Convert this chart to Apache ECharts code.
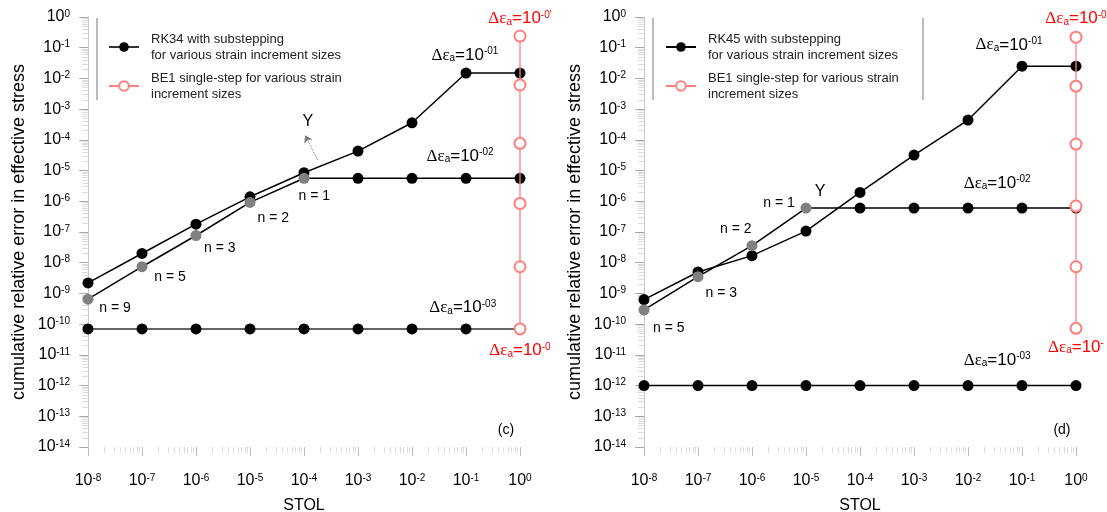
<!DOCTYPE html>
<html><head><meta charset="utf-8">
<script src="https://cdn.jsdelivr.net/npm/echarts@6/dist/echarts.min.js"></script>
<style>html,body{margin:0;padding:0;background:#fff}#c{width:1107px;height:512px}</style>
</head><body><div id="c"></div>
<script>
// ---- data ----
const stol = [1e-8, 1e-7, 1e-6, 1e-5, 1e-4, 1e-3, 1e-2, 1e-1, 1];
// panel (c): RK34
const rk34_de1 = [2.2e-9, 2.0e-8, 1.8e-7, 1.4e-6, 8.5e-6, 4.3e-5, 3.6e-4, 1.5e-2, 1.5e-2];
const rk34_de2 = [6.5e-10, 7.4e-9, 7.7e-8, 9.2e-7, 5.6e-6, 5.6e-6, 5.6e-6, 5.6e-6, 5.6e-6];
const rk34_de2_grayCount = 5;
const rk34_de3 = [7e-11, 7e-11, 7e-11, 7e-11, 7e-11, 7e-11, 7e-11, 7e-11, 7e-11];
const be1_c = [0.24, 6.1e-3, 7.7e-5, 8.5e-7, 7.4e-9, 7e-11];
// panel (d): RK45
const rk45_de1 = [6.3e-10, 5.0e-9, 1.7e-8, 1.07e-7, 1.95e-6, 3.2e-5, 4.4e-4, 2.5e-2, 2.5e-2];
const rk45_de2 = [2.9e-10, 3.5e-9, 3.6e-8, 6e-7, 6e-7, 6e-7, 6e-7, 6e-7, 6e-7];
const rk45_de2_grayCount = 4;
const rk45_de3 = [1e-12, 1e-12, 1e-12, 1e-12, 1e-12, 1e-12, 1e-12, 1e-12, 1e-12];
const be1_d = [0.22, 5.6e-3, 7.3e-5, 7e-7, 7.4e-9, 7.3e-11];
const be1_stol = 1;

// annotations: [log10 x, log10 y, kind, text]
const annC = [
  [-1.02, -1.24, 'de', '-01'], [-1.11, -4.53, 'de', '-02'], [-1.06, -9.45, 'de', '-03'],
  [0, -0.05, 'der', '-0\''], [0, -10.85, 'der', '-0'],
  [-3.81, -5.83, 'n', 'n = 1'], [-4.57, -6.55, 'n', 'n = 2'], [-5.56, -7.52, 'n', 'n = 3'],
  [-6.48, -8.47, 'n', 'n = 5'], [-7.5, -9.48, 'n', 'n = 9'],
  [-3.93, -3.42, 'y', 'Y'], [-0.26, -13.45, 'n', '(c)']
];
const annD = [
  [-1.24, -0.91, 'de', '-01'], [-1.46, -5.41, 'de', '-02'], [-1.46, -11.17, 'de', '-03'],
  [0, -0.05, 'der', '-0'], [0, -10.75, 'der', '-'],
  [-5.5, -6.06, 'n', 'n = 1'], [-6.3, -6.91, 'n', 'n = 2'], [-6.57, -8.99, 'n', 'n = 3'],
  [-7.54, -10.13, 'n', 'n = 5'],
  [-4.74, -5.70, 'y', 'Y'], [-0.26, -13.45, 'n', '(d)']
];

const FONT = "'Liberation Sans', Arial, sans-serif";
const GRAY = '#808080';
const RED_L = '#ff7f7f';
const RED = '#ff0000';

const legendText = {
  RK34: 'RK34 with substepping\nfor various strain increment sizes',
  RK45: 'RK45 with substepping\nfor various strain increment sizes',
  BE1: 'BE1 single-step for various strain\nincrement sizes'
};

function pts(xs, ys, gray) {
  return ys.map((y, i) => i < gray ? {value: [xs[i], y], itemStyle: {color: GRAY}} : [xs[i], y]);
}
const supRich = {
  b: {fontSize: 16, lineHeight: 16, padding: [4, 0, 4, 0], fontFamily: FONT, color: '#000'},
  s: {fontSize: 10, lineHeight: 10, verticalAlign: 'top', fontFamily: FONT, color: '#000'}
};
function expFmt(v) {
  const e = Math.round(Math.log10(v));
  return '{b|10}{s|' + e + '}';
}
function annRich(color) {
  return {
    g: {fontSize: 17, lineHeight: 17, padding: [4, 0, 4, 0], fontFamily: "'Liberation Serif', serif", color},
    m: {fontSize: 17, lineHeight: 17, padding: [4, 0, 4, 0], fontFamily: FONT, color},
    sub: {fontSize: 10, lineHeight: 10, verticalAlign: 'bottom', fontFamily: FONT, color},
    sup: {fontSize: 10, lineHeight: 10, verticalAlign: 'top', fontFamily: FONT, color},
    t: {fontSize: 14, lineHeight: 14, fontFamily: FONT, color: '#000'},
    y: {fontSize: 16, lineHeight: 16, fontFamily: FONT, color: '#000'}
  };
}
function markPts(ann) {
  return ann.map(a => {
    let txt, color = '#000';
    if (a[2] === 'de' || a[2] === 'der') {
      txt = '{g|Δε}{sub|a}{m|=10}{sup|' + a[3] + '}';
      if (a[2] === 'der') color = RED;
    } else if (a[2] === 'y') {
      txt = '{y|' + a[3] + '}';
    } else {
      txt = '{t|' + a[3] + '}';
    }
    return {
      coord: [Math.pow(10, a[0]), Math.pow(10, a[1])],
      symbol: 'rect', symbolSize: 1, itemStyle: {color: 'rgba(0,0,0,0)'},
      label: {show: true, position: 'inside', formatter: txt, rich: annRich(color)}
    };
  });
}

function xAxis(gi) {
  return {
    gridIndex: gi, type: 'log', logBase: 10, min: 1e-8, max: 1, interval: 1,
    name: 'STOL', nameLocation: 'middle', nameGap: 45,
    nameTextStyle: {fontSize: 16, fontFamily: FONT, color: '#000'},
    axisLine: {show: false},
    axisTick: {show: true, length: 9, lineStyle: {color: '#bbb'}},
    minorTick: {show: true, splitNumber: 9, length: 6, lineStyle: {color: '#ddd'}},
    splitLine: {show: false},
    axisLabel: {margin: 26, formatter: expFmt, rich: supRich}
  };
}
function yAxis(gi) {
  return {
    gridIndex: gi, type: 'log', logBase: 10, min: 1e-14, max: 1, interval: 1,
    name: 'cumulative relative error in effective stress', nameLocation: 'middle', nameGap: 60,
    nameTextStyle: {fontSize: 18, fontFamily: FONT, color: '#000'},
    axisLine: {show: true, lineStyle: {color: '#c8c8c8'}},
    axisTick: {show: true, length: 9, lineStyle: {color: '#aaa'}},
    minorTick: {show: true, splitNumber: 9, length: 6, lineStyle: {color: '#ddd'}},
    splitLine: {show: false},
    axisLabel: {margin: 18, formatter: expFmt, rich: supRich}
  };
}
function blackLine(name, gi, data, extra) {
  return Object.assign({
    name, type: 'line', xAxisIndex: gi, yAxisIndex: gi, data,
    symbol: 'circle', symbolSize: 11,
    itemStyle: {color: '#000'}, lineStyle: {color: '#000', width: 1.5},
    z: 3
  }, extra || {});
}
function redLine(gi, ys) {
  return {
    name: 'BE1', type: 'line', xAxisIndex: gi, yAxisIndex: gi,
    data: ys.map(y => [be1_stol, y]),
    symbol: 'emptyCircle', symbolSize: 11,
    itemStyle: {color: RED_L, borderColor: RED_L, borderWidth: 1.2},
    lineStyle: {color: RED_L, width: 1.3}, z: 5
  };
}

const option = {
  animation: false,
  backgroundColor: '#fff',
  textStyle: {fontFamily: FONT},
  grid: [
    {left: 88, right: 587, top: 17, bottom: 65, outerBoundsMode: 'none', containLabel: false},
    {left: 644, right: 31, top: 17, bottom: 65, outerBoundsMode: 'none', containLabel: false}
  ],
  xAxis: [xAxis(0), xAxis(1)],
  yAxis: [yAxis(0), yAxis(1)],
  legend: [
    {left: 103, top: 26, orient: 'vertical', data: ['RK34', 'BE1'], itemWidth: 30, itemHeight: 12, itemGap: 7,
     formatter: n => legendText[n], textStyle: {fontSize: 13, lineHeight: 16, color: '#222', fontFamily: FONT, padding: [0, 0, 0, 7]}},
    {left: 660, top: 26, orient: 'vertical', data: ['RK45', 'BE1'], itemWidth: 30, itemHeight: 12, itemGap: 7,
     formatter: n => legendText[n], textStyle: {fontSize: 13, lineHeight: 16, color: '#222', fontFamily: FONT, padding: [0, 0, 0, 7]}}
  ],
  graphic: [
    {type: 'line', shape: {x1: 97, y1: 18, x2: 97, y2: 100}, style: {stroke: '#777', lineWidth: 1}},
    {type: 'line', shape: {x1: 653, y1: 18, x2: 653, y2: 100}, style: {stroke: '#777', lineWidth: 1}},
    {type: 'line', shape: {x1: 923, y1: 18, x2: 923, y2: 100}, style: {stroke: '#777', lineWidth: 1}}
  ],
  series: [
    blackLine('RK34', 0, pts(stol, rk34_de3, 0), {
      lineStyle: {color: '#333', width: 1.5},
      markPoint: {silent: true, data: markPts(annC)},
      markLine: {silent: true, symbol: ['none', 'arrow'], symbolSize: 7,
        lineStyle: {type: 'dotted', color: '#777', width: 1, curveness: -0.3},
        label: {show: false},
        data: [[{coord: [1.8e-4, 2.2e-5]}, {coord: [1.05e-4, 1.4e-4]}]]}
    }),
    blackLine('RK34', 0, pts(stol, rk34_de1, 0)),
    blackLine('RK34', 0, pts(stol, rk34_de2, rk34_de2_grayCount), {z: 4}),
    redLine(0, be1_c),
    blackLine('RK45', 1, pts(stol, rk45_de3, 0), {
      markPoint: {silent: true, data: markPts(annD)}
    }),
    blackLine('RK45', 1, pts(stol, rk45_de1, 0)),
    blackLine('RK45', 1, pts(stol, rk45_de2, rk45_de2_grayCount), {z: 4}),
    redLine(1, be1_d)
  ]
};
const chart = echarts.init(document.getElementById('c'), null, {renderer: 'canvas'});
chart.setOption(option);
</script>
</body></html>
